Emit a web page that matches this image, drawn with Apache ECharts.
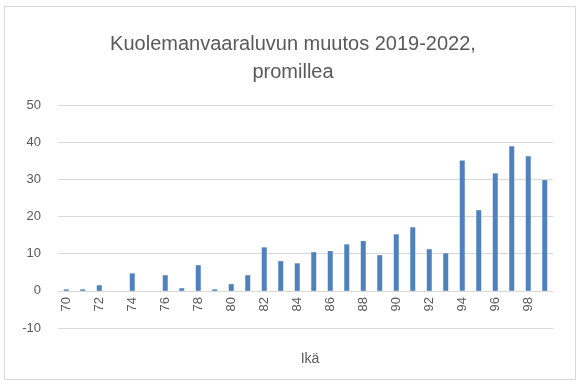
<!DOCTYPE html>
<html>
<head>
<meta charset="utf-8">
<script src="https://cdn.jsdelivr.net/npm/echarts@6/dist/echarts.min.js"></script>
<style>html,body{margin:0;padding:0;background:#fff;}#c{width:586px;height:387px;}</style>
</head>
<body>
<div id="c"></div>
<script>
var titleText = 'Kuolemanvaaraluvun muutos 2019-2022,\npromillea';
var axisTitle = 'Ikä';
var ages = ['70','71','72','73','74','75','76','77','78','79','80','81','82','83','84','85','86','87','88','89','90','91','92','93','94','95','96','97','98','99'];
var values = [0.4,0.4,1.5,0,4.7,0,4.2,0.7,6.9,0.4,1.8,4.2,11.7,8.0,7.4,10.4,10.7,12.5,13.4,9.6,15.2,17.1,11.2,10.1,35.1,21.7,31.6,38.9,36.2,29.8];
var yTicks = {min: -10, max: 50, interval: 10};

var chart = echarts.init(document.getElementById('c'), null, {renderer: 'canvas'});
var font = 'Liberation Sans, Arial, sans-serif';
chart.setOption({
  animation: false,
  backgroundColor: '#fff',
  graphic: [{
    type: 'rect', shape: {x: 4.5, y: 6.5, width: 571, height: 373},
    style: {fill: 'none', stroke: '#d9d9d9', lineWidth: 1}, silent: true
  }],
  title: [{
    text: titleText, left: 'center', top: 25,
    textStyle: {fontFamily: font, fontSize: 20, fontWeight: 'normal', color: '#595959', lineHeight: 28}
  }, {
    text: axisTitle, left: 305, top: 347, textAlign: 'center',
    textStyle: {fontFamily: font, fontSize: 14, fontWeight: 'normal', color: '#595959'}
  }],
  grid: {left: 58, right: 33, top: 105, bottom: 59, containLabel: false},
  xAxis: {
    type: 'category', data: ages, offset: -37,
    axisLine: {onZero: false, lineStyle: {color: '#d9d9d9', width: 1}},
    axisTick: {show: false},
    axisLabel: {interval: 1, rotate: 90, fontFamily: font, fontSize: 13, color: '#595959', margin: 6}
  },
  yAxis: {
    type: 'value', min: yTicks.min, max: yTicks.max, interval: yTicks.interval,
    axisLine: {show: false}, axisTick: {show: false},
    splitLine: {lineStyle: {color: '#d9d9d9', width: 1}},
    axisLabel: {fontFamily: font, fontSize: 13, color: '#595959', margin: 17}
  },
  series: [{
    type: 'bar', data: values, barWidth: 5,
    itemStyle: {color: '#4f81bd'}
  }]
});
</script>
</body>
</html>
